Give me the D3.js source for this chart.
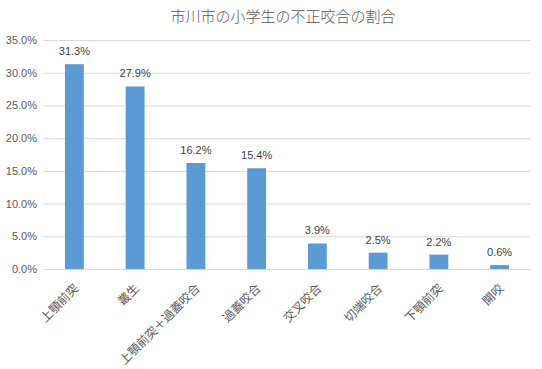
<!DOCTYPE html>
<html><head><meta charset="utf-8">
<script src="https://cdn.jsdelivr.net/npm/d3@7"></script>
<style>body{margin:0;background:#fff}svg{display:block}text{font-family:"Noto Sans CJK JP","Noto Sans",sans-serif}</style>
</head><body>
<script>
const categories = ["上顎前突","叢生","上顎前突＋過蓋咬合","過蓋咬合","交叉咬合","切端咬合","下顎前突","開咬"];
const values = [31.3, 27.9, 16.2, 15.4, 3.9, 2.5, 2.2, 0.6];
const yTicks = [0,5,10,15,20,25,30,35];
const title = "市川市の小学生の不正咬合の割合";

const W = 542, H = 369;
const m = {left:44, right:12, top:40, bottom:100};
const svg = d3.select("body").append("svg").attr("width",W).attr("height",H);
const x = d3.scaleBand().domain(categories).range([m.left, W-m.right]).paddingInner(0.69).paddingOuter(0.345);
const y = d3.scaleLinear().domain([0,35]).range([H-m.bottom, m.top]);

svg.append("text").attr("x",283).attr("y",22).attr("text-anchor","middle")
  .attr("font-size",15).attr("font-weight",300).attr("fill","#595959").text(title);

const gy = svg.append("g").attr("transform",`translate(${m.left},0)`)
  .call(d3.axisLeft(y).tickValues(yTicks).tickSize(-(W-m.left-m.right)).tickFormat(d=>d.toFixed(1)+"%"));
gy.select(".domain").remove();
gy.selectAll("line").attr("stroke","#d9d9d9");
gy.selectAll("text").attr("fill","#595959").attr("font-size",11).attr("x",-7)
  .style("font-family","'Liberation Sans',Arial,sans-serif");

svg.selectAll("rect.bar").data(values).join("rect").attr("class","bar")
  .attr("x",(d,i)=>x(categories[i])).attr("width",x.bandwidth())
  .attr("y",d=>y(d)).attr("height",d=>y(0)-y(d)).attr("fill","#5b9bd5");

svg.selectAll("text.val").data(values).join("text").attr("class","val")
  .attr("x",(d,i)=>x(categories[i])+x.bandwidth()/2).attr("y",d=>y(d)-9)
  .attr("text-anchor","middle").attr("font-size",11).attr("fill","#404040")
  .style("font-family","'Liberation Sans',Arial,sans-serif")
  .text(d=>d.toFixed(1)+"%");

const gx = svg.append("g").attr("transform",`translate(0,${y(0)})`)
  .call(d3.axisBottom(x).tickSize(0).tickSizeOuter(0));
gx.select(".domain").attr("stroke","#d9d9d9");
gx.selectAll("text").attr("fill","#595959").attr("font-size",12)
  .attr("text-anchor","end").attr("dy","0.35em")
  .attr("transform","translate(2,17) rotate(-45)").attr("y",0).attr("x",0);
</script>
</body></html>
